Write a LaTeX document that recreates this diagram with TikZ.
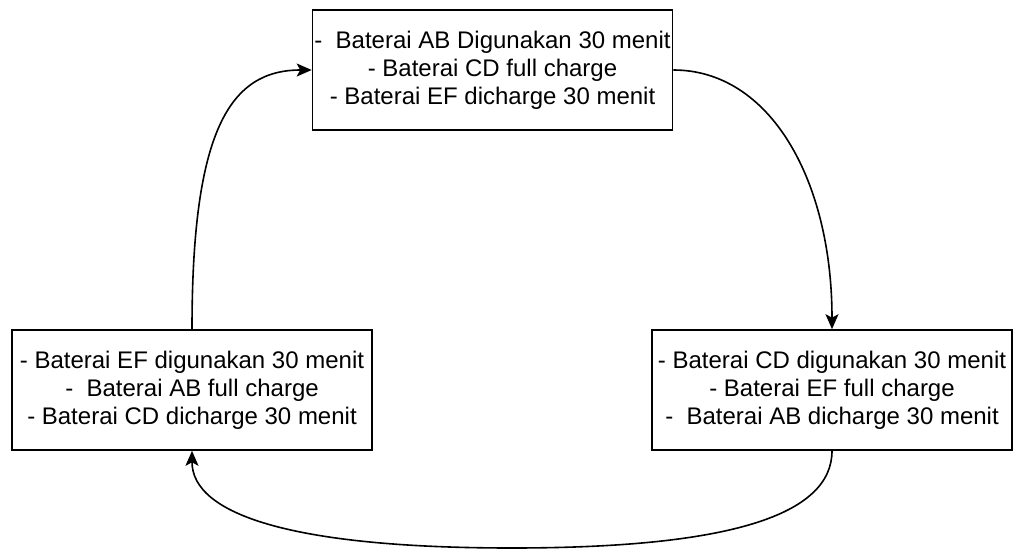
\documentclass[tikz,border=0pt]{standalone}
\usepackage{fontspec}
\setmainfont{Liberation Sans}
\usetikzlibrary{arrows.meta}
\begin{document}
\begin{tikzpicture}[x=1pt,y=-1pt,
  phase/.style={draw=black,line width=1.6pt,fill=white,rectangle,
    minimum width=360pt,minimum height=120pt,inner sep=0pt,align=center,
    font=\fontsize{24}{28}\selectfont},
  flow/.style={draw=black,line width=1.6pt,
    -{Stealth[length=15pt,width=13pt,inset=3.5pt]}}]
\useasboundingbox (0,0) rectangle (1013,551);

\node[phase] (ab) at (492.5,70) {-\ \ Baterai AB Digunakan 30 menit\\- Baterai CD full charge\\- Baterai EF dicharge 30 menit};
\node[phase] (cd) at (832,390) {- Baterai CD digunakan 30 menit\\- Baterai EF full charge\\-\ \ Baterai AB dicharge 30 menit};
\node[phase] (ef) at (192,390) {- Baterai EF digunakan 30 menit\\-\ \ Baterai AB full charge\\- Baterai CD dicharge 30 menit};

\coordinate (low) at (512,548);

% AB -> CD
\draw[flow] (ab.east) .. controls (770,70) and (832,180) .. (cd.north);
% CD -> EF, looping under both boxes
\draw[flow] (cd.south) .. controls (832,515) and (730,548) .. (low)
  .. controls (294,548) and (192,515) .. (ef.south);
% EF -> AB
\draw[flow] (ef.north) .. controls (192,130) and (230,70) .. (ab.west);
\end{tikzpicture}
\end{document}
